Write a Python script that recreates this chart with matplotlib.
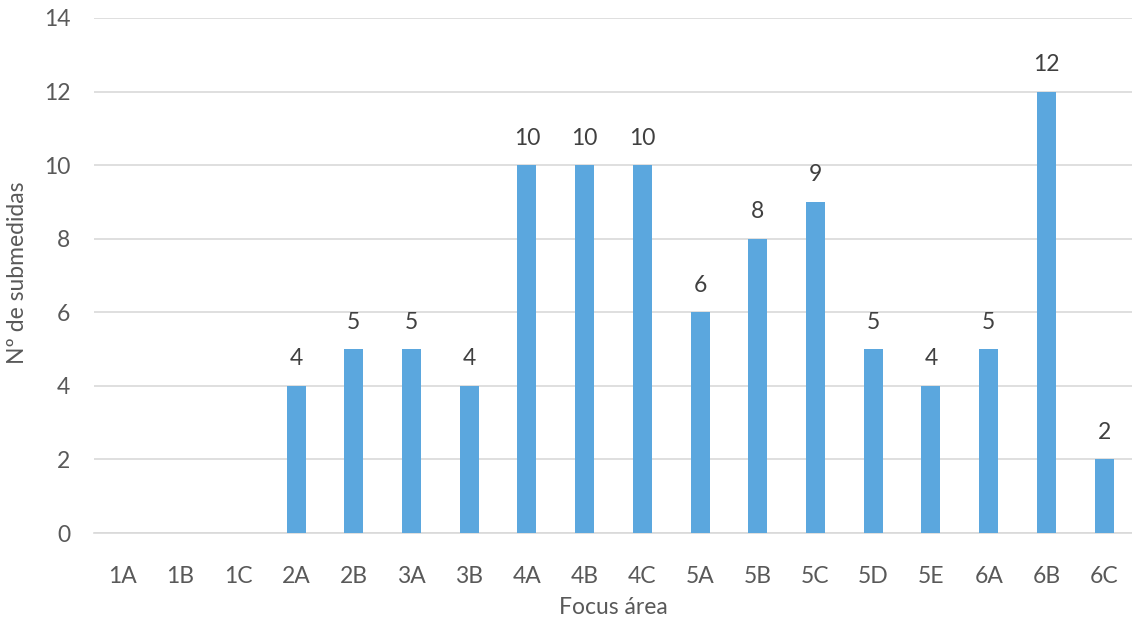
import matplotlib
matplotlib.use("Agg")
import matplotlib.pyplot as plt

categories = ["1A", "1B", "1C", "2A", "2B", "3A", "3B", "4A", "4B", "4C",
              "5A", "5B", "5C", "5D", "5E", "6A", "6B", "6C"]
values = [0, 0, 0, 4, 5, 5, 4, 10, 10, 10, 6, 8, 9, 5, 4, 5, 12, 2]
yticks = [0, 2, 4, 6, 8, 10, 12, 14]

plt.rcParams['font.family'] = ['Lato', 'DejaVu Sans']
txt = '#595959'
W, H = 1132, 624
fig = plt.figure(figsize=(W / 100, H / 100), dpi=100)
ax = fig.add_axes([94 / W, 1 - 533 / H, (1133 - 94) / W, (533 - 18) / H])

x = list(range(len(categories)))
bars = ax.bar(x, values, width=0.33, color='#5BA7DE', zorder=3)
for xi, v in zip(x, values):
    if v > 0:
        ax.text(xi, v + 0.45, str(v), ha='center', va='bottom', fontsize=16.5, color='#404040')

ax.set_xlim(-0.5, len(categories) - 0.5)
ax.set_ylim(0, 14)
ax.set_yticks(yticks)
ax.set_xticks(x)
ax.set_xticklabels(categories)
ax.grid(axis='y', color='#D9D9D9', linewidth=1.2, zorder=0)
for s in ['top', 'right', 'left']:
    ax.spines[s].set_visible(False)
ax.spines['bottom'].set_color('#D9D9D9')
ax.spines['bottom'].set_linewidth(1.2)
ax.tick_params(axis='both', length=0, labelsize=16.5, colors=txt)
ax.tick_params(axis='y', pad=17)
ax.tick_params(axis='x', pad=24)
fig.text(613 / W, 1 - 608 / H, 'Focus área', fontsize=16.5, color=txt, ha='center', va='center')
fig.text(18 / W, 1 - 273 / H, 'Nº de submedidas', fontsize=16.5, color=txt, ha='center', va='center', rotation=90)

fig.savefig('out.png', dpi=100)
